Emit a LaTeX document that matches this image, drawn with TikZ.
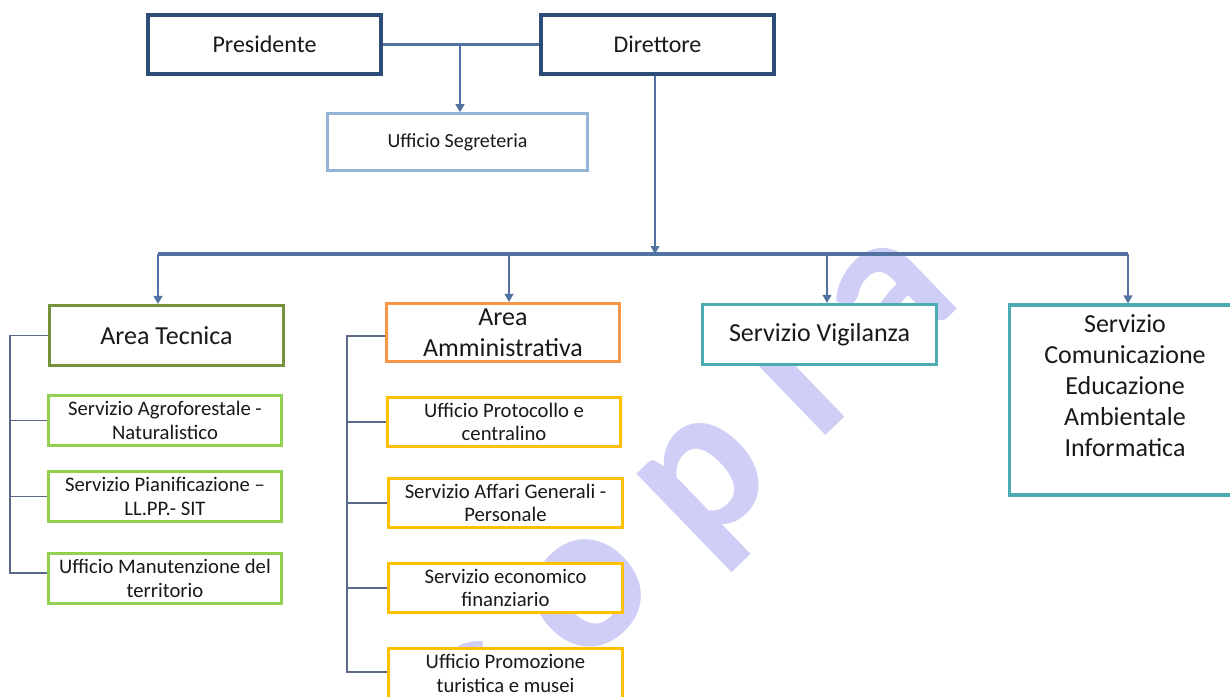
\documentclass[tikz,border=0pt]{standalone}
\usepackage{fontspec}
\setmainfont{Carlito}
\usetikzlibrary{arrows.meta,shadows}
\definecolor{navy}{RGB}{44,77,120}
\definecolor{lblue}{RGB}{149,179,215}
\definecolor{olive}{RGB}{118,146,60}
\definecolor{lgreen}{RGB}{146,208,80}
\definecolor{orng}{RGB}{247,150,70}
\definecolor{gold}{RGB}{255,192,0}
\definecolor{teal2}{RGB}{75,172,180}
\definecolor{connc}{RGB}{82,114,162}
\definecolor{brkc}{RGB}{88,104,134}
\definecolor{txt}{RGB}{25,25,25}
\definecolor{wmc}{RGB}{206,206,246}
\tikzset{
  wh/.style 2 args={minimum width=#1*0.75pt, minimum height=#2*0.75pt},
  box/.style={draw, fill=white, inner sep=0pt, align=center, text=txt,
    drop shadow={shadow xshift=1pt, shadow yshift=-1.2pt, opacity=0.2}},
  topbox/.style={box, draw=navy, line width=3pt, font=\fontsize{18}{22}\selectfont},
  segbox/.style={box, draw=lblue, line width=1.9pt, font=\fontsize{15}{17.6}\selectfont},
  headbox/.style={box, line width=2.3pt, font=\fontsize{19.5}{23.3}\selectfont},
  subbox/.style={box, line width=2.3pt, font=\fontsize{15.5}{17.6}\selectfont},
  conn/.style={draw=connc, line width=1.9pt},
  bus/.style={draw=connc, line width=3pt},
  arr/.style={-{Triangle[width=6.5pt,length=6pt]}},
  brk/.style={draw=brkc, line width=1.4pt},
  wm/.style={text=wmc, font=\bfseries\fontsize{160}{160}\selectfont, inner sep=0pt, rotate=44}
}
\begin{document}
\begin{tikzpicture}[x=0.75pt,y=-0.75pt]
\useasboundingbox (0,0) rectangle (1230,696);
\clip (0,0) rectangle (1230,696);
\fill[white] (0,0) rectangle (1230,696);
% watermark
\node[wm] (wmk) at (684,492) {c o p i a};

% coordinates
\coordinate (j1) at (460,44.5);
\coordinate (bj) at (655,254);
\coordinate (b1) at (158,254);
\coordinate (b2) at (509,254);
\coordinate (b3) at (827,254);
\coordinate (b4) at (1128,254);
\coordinate (L1) at (10,335.5);
\coordinate (L2) at (10,573);
\coordinate (M1) at (347,336);
\coordinate (M2) at (347,672);

% boxes
\node[topbox, wh={233}{59}] (pres) at (264.5,44.5) {Presidente};
\node[topbox, wh={233}{59}] (dir) at (657.5,44.5) {Direttore};
\node[segbox, wh={260}{57}] (seg) at (457.5,142) {Ufficio Segreteria};

\node[headbox, draw=olive, wh={234}{60}] (at) at (166.5,335.5) {Area Tecnica};
\node[subbox, draw=lgreen, wh={233}{50}] (ag) at (165,420.5) {Servizio Agroforestale -\\Naturalistico};
\node[subbox, draw=lgreen, wh={233}{50}] (pi) at (165,496.5) {Servizio Pianificazione –\\LL.PP.- SIT};
\node[subbox, draw=lgreen, wh={233}{50}] (ma) at (165,578.5) {Ufficio Manutenzione del\\territorio};

\node[headbox, draw=orng, wh={233}{58}] (aa) at (503,332.5) {Area\\Amministrativa};
\node[subbox, draw=gold, wh={233}{49}] (pr) at (504,422) {Ufficio Protocollo e\\centralino};
\node[subbox, draw=gold, wh={234}{49}] (af) at (505.5,503) {Servizio Affari Generali -\\Personale};
\node[subbox, draw=gold, wh={234}{49}] (ec) at (505.5,588) {Servizio economico\\finanziario};
\node[subbox, draw=gold, wh={234}{50}] (pm) at (505.5,673.5) {Ufficio Promozione\\turistica e musei};

\node[headbox, draw=teal2, wh={234}{60}] (sv) at (819.5,334.5) {Servizio Vigilanza};
\node[headbox, draw=teal2, wh={231}{190}] (sc) at (1125,400) {};
\node[align=center, text=txt, inner sep=0pt, font=\fontsize{19.5}{23.3}\selectfont] (sct) at (1125,386)
  {Servizio\\Comunicazione\\Educazione\\Ambientale\\Informatica};

% connectors
\draw[conn] (pres) -- (dir);
\draw[conn, arr] (j1) -- (j1 |- seg.north);
\draw[bus] (b1) -- (b4);
\draw[conn, arr] (dir.south -| bj) -- (bj);
\draw[conn, arr] (b1) -- (b1 |- at.north);
\draw[conn, arr] (b2) -- (b2 |- aa.north);
\draw[conn, arr] (b3) -- (b3 |- sv.north);
\draw[conn, arr] (b4) -- (b4 |- sc.north);

% brackets
\draw[brk] (at.west) -- (L1) -- (L2) -- (L2 -| ma.west);
\draw[brk] (L1 |- ag.west) -- (ag.west);
\draw[brk] (L1 |- pi.west) -- (pi.west);
\draw[brk] (aa.west |- M1) -- (M1) -- (M2) -- (M2 -| pm.west);
\draw[brk] (M1 |- pr.west) -- (pr.west);
\draw[brk] (M1 |- af.west) -- (af.west);
\draw[brk] (M1 |- ec.west) -- (ec.west);
\end{tikzpicture}
\end{document}
